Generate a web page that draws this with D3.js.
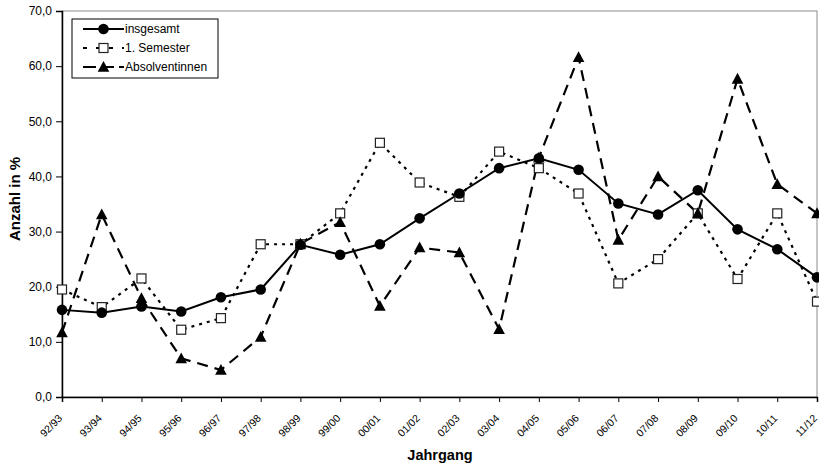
<!DOCTYPE html>
<html>
<head>
<meta charset="utf-8">
<script src="https://cdn.jsdelivr.net/npm/d3@7"></script>
<style>
  body { margin: 0; background: #fff; }
  svg { display: block; font-family: "Liberation Sans", Arial, sans-serif; }
</style>
</head>
<body>
<svg id="chart" width="819" height="467"></svg>
<script>
// Jahrgänge (x categories)
const jahrgaenge = ["92/93","93/94","94/95","95/96","96/97","97/98","98/99","99/00","00/01","01/02",
                    "02/03","03/04","04/05","05/06","06/07","07/08","08/09","09/10","10/11","11/12"];

// Anteil in %
const insgesamt      = [15.8,15.3,16.4,15.5,18.1,19.5,27.6,25.8,27.7,32.4,36.9,41.5,43.3,41.2,35.1,33.1,37.5,30.4,26.8,21.7];
const ersteSemester  = [19.5,16.3,21.5,12.2,14.3,27.7,27.7,33.3,46.1,38.9,36.3,44.5,41.5,36.9,20.6,25.0,33.3,21.4,33.3,17.3];
const absolventinnen = [11.7,33.1,17.9, 7.0, 4.9,10.9,27.8,31.7,16.5,27.1,26.2,12.3,43.4,61.6,28.5,40.0,33.3,57.7,38.6,33.3];

const yTicks = [0,10,20,30,40,50,60,70];

const seriesNames = ["insgesamt", "1. Semester", "Absolventinnen"];

const svg = d3.select("#chart");
const plotLeft = 62, plotRight = 817, plotTop = 11, plotBottom = 397;

const x = d3.scalePoint().domain(jahrgaenge).range([plotLeft, plotRight]);
const y = d3.scaleLinear().domain([0, 70]).range([plotBottom, plotTop]);

// plot frame
svg.append("rect").attr("x", plotLeft).attr("y", plotTop)
  .attr("width", plotRight - plotLeft).attr("height", plotBottom - plotTop)
  .attr("fill", "none").attr("stroke", "#8c8c8c").attr("stroke-width", 1);

// y axis
const yAxis = svg.append("g").attr("transform", `translate(${plotLeft},0)`)
  .call(d3.axisLeft(y).tickValues(yTicks).tickSize(6).tickPadding(4)
    .tickFormat(d => d3.format(".1f")(d).replace(".", ",")));
yAxis.select(".domain").attr("stroke", "#000").attr("stroke-width", 1.5);
yAxis.selectAll(".tick line").attr("stroke", "#000");
yAxis.selectAll("text").attr("font-size", 12).attr("fill", "#000")
  .attr("font-family", "Liberation Sans, Arial, sans-serif");

// x axis
const xAxis = svg.append("g").attr("transform", `translate(0,${plotBottom})`)
  .call(d3.axisBottom(x).tickSize(5).tickFormat(""));
xAxis.select(".domain").attr("stroke", "#000").attr("stroke-width", 1.5);
xAxis.selectAll(".tick line").attr("stroke", "#000");

svg.append("g").selectAll("text").data(jahrgaenge).join("text")
  .attr("transform", d => `translate(${x(d) - 1},${plotBottom + 20}) rotate(-45)`)
  .attr("text-anchor", "end").attr("dominant-baseline", "middle")
  .attr("font-size", 10.5).attr("fill", "#000").text(d => d);

// axis titles
svg.append("text").attr("x", 440).attr("y", 460).attr("text-anchor", "middle")
  .attr("font-size", 14.5).attr("font-weight", "bold").text("Jahrgang");
svg.append("text").attr("transform", "translate(20,199) rotate(-90)")
  .attr("text-anchor", "middle").attr("font-size", 15).attr("font-weight", "bold")
  .text("Anzahl in %");

const line = d3.line().x((d, i) => x(jahrgaenge[i])).y(d => y(d));

const styles = [
  { data: insgesamt, dash: null, width: 2 },
  { data: ersteSemester, dash: "3,5", width: 2.2 },
  { data: absolventinnen, dash: "11,7", width: 2.2 }
];

const plot = svg.append("g");
styles.forEach(s => {
  plot.append("path").datum(s.data).attr("d", line)
    .attr("fill", "none").attr("stroke", "#000")
    .attr("stroke-width", s.width).attr("stroke-dasharray", s.dash);
});

function circleMarker(g, cx, cy) {
  g.append("circle").attr("cx", cx).attr("cy", cy).attr("r", 5.3).attr("fill", "#000");
}
function squareMarker(g, cx, cy) {
  g.append("rect").attr("x", cx - 4.5).attr("y", cy - 4.5).attr("width", 9).attr("height", 9)
    .attr("fill", "#fff").attr("stroke", "#222").attr("stroke-width", 1.2);
}
function triangleMarker(g, cx, cy) {
  g.append("path").attr("transform", `translate(${cx},${cy})`)
    .attr("d", "M0,-6L5.8,4.8L-5.8,4.8Z").attr("fill", "#000");
}
const markers = [circleMarker, squareMarker, triangleMarker];

// markers: squares first, then triangles, circles on top
[1, 2, 0].forEach(k => {
  const g = plot.append("g");
  styles[k].data.forEach((v, i) => markers[k](g, x(jahrgaenge[i]), y(v)));
});

// legend
const lg = svg.append("g");
lg.append("rect").attr("x", 72).attr("y", 19).attr("width", 146).attr("height", 59)
  .attr("fill", "#fff").attr("stroke", "#000").attr("stroke-width", 1);
const rows = [29, 48, 67];
seriesNames.forEach((name, k) => {
  const yy = rows[k];
  lg.append("line").attr("x1", 83).attr("x2", 124).attr("y1", yy).attr("y2", yy)
    .attr("stroke", "#000").attr("stroke-width", styles[k].width)
    .attr("stroke-dasharray", k === 1 ? "4,9" : (k === 2 ? "13,5" : null));
  markers[k](lg, 103.5, yy);
  lg.append("text").attr("x", 125).attr("y", yy).attr("dominant-baseline", "central")
    .attr("font-size", 12).attr("fill", "#000").text(name);
});
</script>
</body>
</html>
